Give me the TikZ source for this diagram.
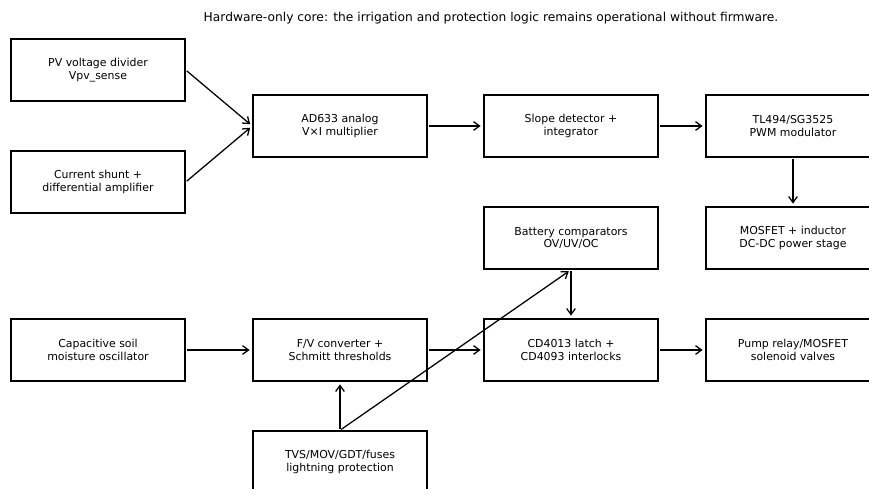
\documentclass[tikz,border=0pt]{standalone}
\usepackage{fontspec}
\setmainfont{DejaVu Sans}
\usetikzlibrary{arrows.meta}

\begin{document}
\begin{tikzpicture}[x=0.75pt,y=-0.75pt,
	blk/.style={rectangle,draw,line width=1.1pt,minimum width=130.5pt,minimum height=46.5pt,inner sep=0pt,align=center,font=\fontsize{8.2}{9.6}\selectfont},
	lnk/.style={-{Straight Barb[length=4.5pt,width=6.5pt]},line width=0.95pt,shorten >=2pt,shorten <=1pt}]
			\useasboundingbox (0,0) rectangle (869,489);
			\node[font=\fontsize{9.2}{11}\selectfont] (title) at (491,18) {Hardware-only core: the irrigation and protection logic remains operational without firmware.};
			\node[blk] (pv) at (98,70) {PV voltage divider\\Vpv\_sense};
			\node[blk] (shunt) at (98,182) {Current shunt +\\differential amplifier};
			\node[blk] (mult) at (340,126) {AD633 analog\\V×I multiplier};
			\node[blk] (slope) at (571,126) {Slope detector +\\integrator};
			\node[blk] (pwm) at (793,126) {TL494/SG3525\\PWM modulator};
			\node[blk] (batt) at (571,238) {Battery comparators\\OV/UV/OC};
			\node[blk] (buck) at (793,238) {MOSFET + inductor\\DC-DC power stage};
			\node[blk] (soil) at (98,350) {Capacitive soil\\moisture oscillator};
			\node[blk] (fv) at (340,350) {F/V converter +\\Schmitt thresholds};
			\node[blk] (latch) at (571,350) {CD4013 latch +\\CD4093 interlocks};
			\node[blk] (pump) at (793,350) {Pump relay/MOSFET\\solenoid valves};
			\node[blk] (tvs) at (340,462) {TVS/MOV/GDT/fuses\\lightning protection};
			\path[lnk]
			(pv.east) edge (mult.west)
			(shunt.east) edge (mult.west)
			(mult) edge (slope)
			(slope) edge (pwm)
			(pwm) edge (buck)
			(soil) edge (fv)
			(fv) edge (latch)
			(batt) edge (latch)
			(latch) edge (pump)
			(tvs) edge (fv)
			(tvs.north) edge (batt.south);
		\end{tikzpicture}
\end{document}
